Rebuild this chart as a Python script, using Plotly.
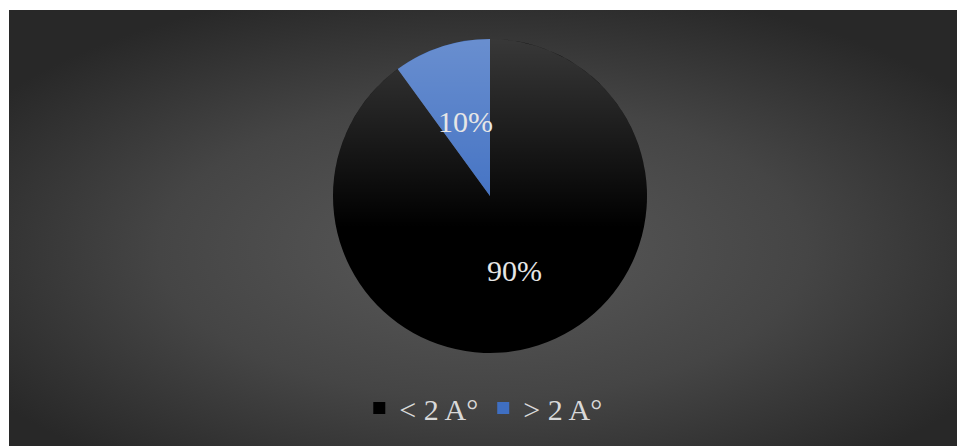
import base64
import math
import plotly.graph_objects as go

labels = ["< 2 A°", "> 2 A°"]
values = [90, 10]
colors = ["#000000", "#3f6fc2"]

W, H = 957, 446
FONT = "Liberation Serif, Times New Roman, serif"

bg_svg = '''<svg xmlns="http://www.w3.org/2000/svg" width="948" height="436" viewBox="0 0 948 436">
<defs><radialGradient id="g" cx="50%" cy="55%" r="62%" fx="50%" fy="55%">
<stop offset="0" stop-color="#5a5a5a"/><stop offset="0.55" stop-color="#454545"/><stop offset="1" stop-color="#282828"/>
</radialGradient></defs>
<rect width="948" height="436" fill="url(#g)"/></svg>'''
bg_src = "data:image/svg+xml;base64," + base64.b64encode(bg_svg.encode()).decode()

sheen_svg = '''<svg xmlns="http://www.w3.org/2000/svg" width="314" height="314" viewBox="0 0 314 314">
<defs><linearGradient id="s" x1="0" y1="0" x2="0" y2="1">
<stop offset="0" stop-color="#ffffff" stop-opacity="0.22"/><stop offset="0.6" stop-color="#ffffff" stop-opacity="0"/>
</linearGradient></defs>
<circle cx="157" cy="157" r="157" fill="url(#s)"/></svg>'''
sheen_src = "data:image/svg+xml;base64," + base64.b64encode(sheen_svg.encode()).decode()

cx, cy, r = 490, 196, 157
dom_x = [(cx - r) / W, (cx + r) / W]
dom_y = [(H - cy - r) / H, (H - cy + r) / H]

fig = go.Figure(go.Pie(
    labels=labels, values=values, sort=False, direction="clockwise", rotation=0,
    marker=dict(colors=colors, line=dict(width=0)),
    textinfo="none",
    domain=dict(x=dom_x, y=dom_y),
    hoverinfo="label+percent",
))

# percentage labels at half radius along each slice's mid-angle (clockwise from 12 o'clock)
total = sum(values)
annotations = []
acc = 0
for v in values:
    mid = (acc + v / 2) / total * 2 * math.pi
    acc += v
    px = cx + 0.5 * r * math.sin(mid)
    py = cy - 0.5 * r * math.cos(mid)
    annotations.append(dict(
        x=px / W, y=1 - py / H, xref="paper", yref="paper", showarrow=False,
        xanchor="center", yanchor="middle",
        text=f"{round(v / total * 100)}%",
        font=dict(family=FONT, size=30, color="#e6e6e6"),
    ))

fig.update_layout(
    width=W, height=H, margin=dict(l=0, r=0, t=0, b=0),
    paper_bgcolor="white", plot_bgcolor="rgba(0,0,0,0)",
    annotations=annotations,
    images=[
        dict(source=bg_src, xref="paper", yref="paper", x=9 / W, y=1 - 10 / H,
             sizex=1 - 9 / W, sizey=1 - 10 / H, xanchor="left", yanchor="top",
             sizing="stretch", layer="below"),
        dict(source=sheen_src, xref="paper", yref="paper", x=dom_x[0], y=dom_y[1],
             sizex=dom_x[1] - dom_x[0], sizey=dom_y[1] - dom_y[0], xanchor="left", yanchor="top",
             sizing="stretch", layer="above"),
    ],
    legend=dict(orientation="h", x=0.505, xanchor="center", y=(H - 408) / H, yanchor="middle",
                font=dict(family=FONT, size=30, color="#d9d9d9"),
                bgcolor="rgba(0,0,0,0)", itemsizing="constant", itemwidth=30),
    showlegend=True,
)
fig.write_html("out.html")
